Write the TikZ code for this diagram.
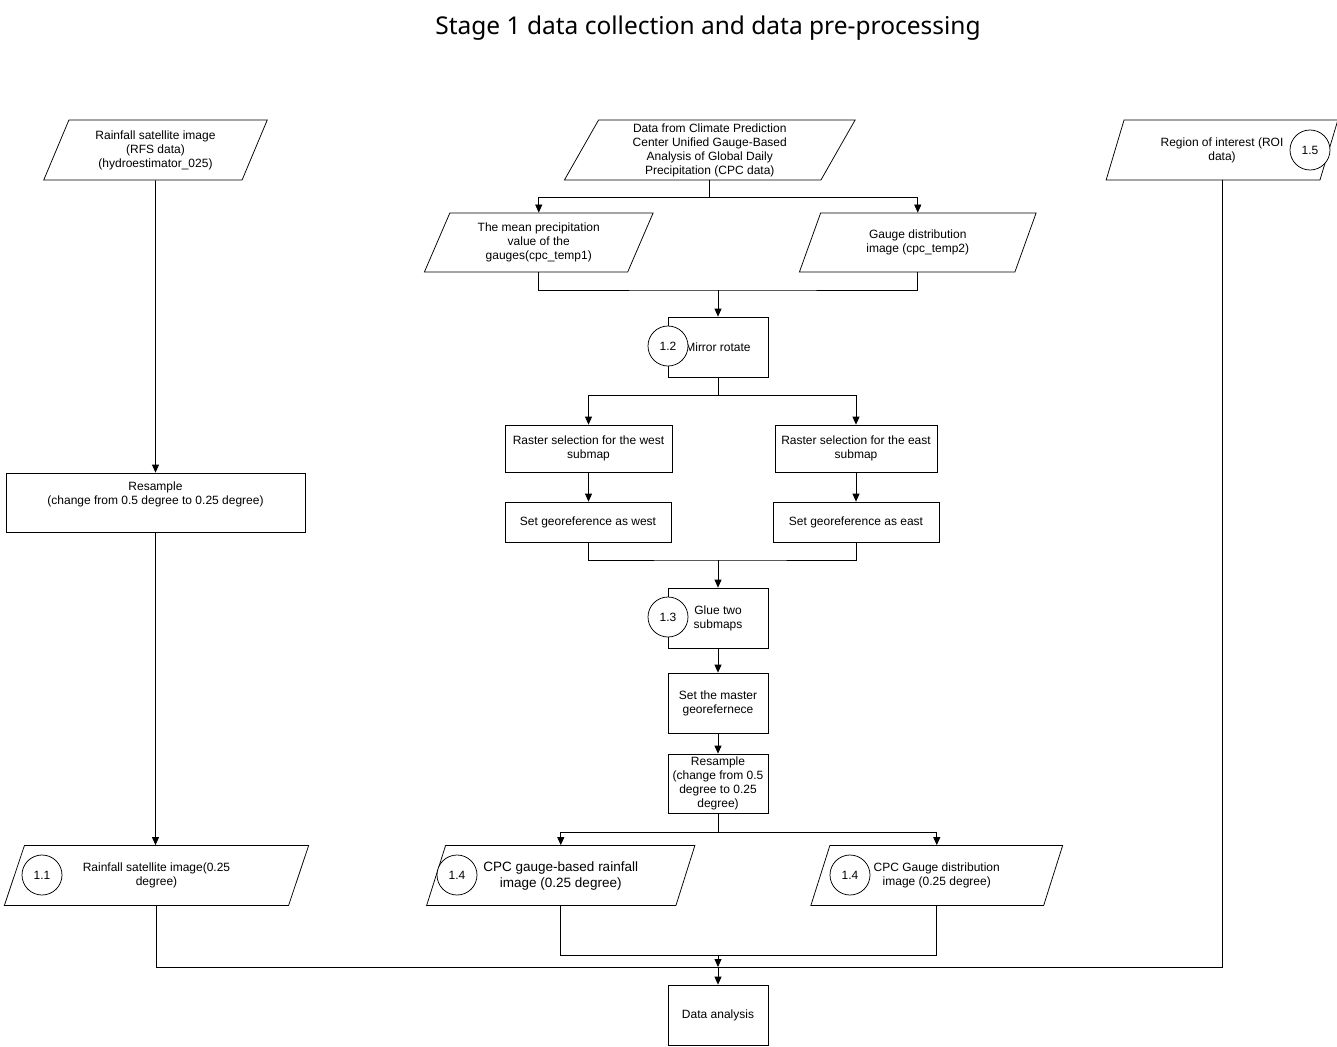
\documentclass[tikz,border=0pt]{standalone}
\usepackage{fontspec}
\setmainfont{Liberation Sans}
\newfontfamily\titlefont{Noto Sans}
\usetikzlibrary{shapes.geometric,arrows.meta}

\tikzset{
  databox/.style={draw, trapezium, trapezium left angle=66, trapezium right angle=114,
    trapezium stretches=true, minimum height=60, inner sep=0pt, align=center},
  procbox/.style={draw, rectangle, minimum width=100, minimum height=60, inner sep=0pt, align=center},
  stagenum/.style={draw, circle, fill=white, minimum size=40, inner sep=0pt},
  flow/.style={-{Triangle[length=8pt,width=7pt]}}
}

\begin{document}
\begin{tikzpicture}[x=1pt, y=-1pt, line width=0.75pt, font=\fontsize{12}{14}\selectfont]
  \useasboundingbox (0,0) rectangle (1337,1046);
  \node[font=\titlefont\fontsize{24.5}{28}\selectfont] (title) at (708,28) {Stage 1 data collection and data pre-processing};

  \node[databox, minimum width=224] (rfs) at (155.5,150) {Rainfall satellite image\\(RFS data)\\(hydroestimator\_025)};
  \node[procbox, minimum width=299, minimum height=59] (resl) at (155.5,502.5) {Resample\\(change from 0.5 degree to 0.25 degree)\\\strut};
  \node[databox, minimum width=305] (rfs25) at (156.5,875.5) {Rainfall satellite image(0.25\\degree)};

  \node[databox, minimum width=291] (cpc) at (709.75,150) {Data from Climate Prediction\\Center Unified Gauge-Based\\Analysis of Global Daily\\Precipitation (CPC data)};
  \node[databox, minimum width=229, minimum height=59] (meanp) at (538.75,242.5) {The mean precipitation\\value of the\\gauges(cpc\_temp1)};
  \node[databox, minimum width=237, minimum height=59] (gauge) at (917.75,242.5) {Gauge distribution\\image (cpc\_temp2)};
  \node[procbox] (rot) at (718,347) {Mirror rotate};
  \node[procbox, minimum width=167, minimum height=47] (rasw) at (588.5,448.5) {Raster selection for the west\\submap};
  \node[procbox, minimum width=162, minimum height=47] (rase) at (856,448.5) {Raster selection for the east\\submap};
  \node[procbox, minimum width=166, minimum height=40] (geow) at (588,522) {Set georeference as west};
  \node[procbox, minimum width=166, minimum height=40] (geoe) at (856,522) {Set georeference as east};
  \node[procbox] (glue) at (718,618) {Glue two\\submaps};
  \node[procbox] (master) at (718,703) {Set the master\\georefernece};
  \node[procbox, minimum height=59] (resc) at (718,783.5) {Resample\\(change from 0.5\\degree to 0.25\\degree)};
  \node[databox, minimum width=269, font=\fontsize{13.5}{16}\selectfont] (cpc25) at (560.75,875.5) {CPC gauge-based rainfall\\image (0.25 degree)};
  \node[databox, minimum width=252] (gd25) at (936.75,875.5) {CPC Gauge distribution\\image (0.25 degree)};
  \node[procbox] (ana) at (718,1015) {Data analysis};

  \node[databox, minimum width=232] (roi) at (1222,150) {Region of interest (ROI\\data)};

  \node[stagenum] (c11) at (42,875) {1.1};
  \node[stagenum] (c12) at (668,346) {1.2};
  \node[stagenum] (c13) at (668,617) {1.3};
  \node[stagenum] (c14a) at (457,875) {1.4};
  \node[stagenum] (c14b) at (850,875) {1.4};
  \node[stagenum] (c15) at (1310,150) {1.5};

  \draw[flow] (rfs.south) -- (resl.north);
  \draw[flow] (resl.south) -- (resl.south |- rfs25.north);

  \draw (cpc.south) -- ++(0,17) coordinate (j1);
  \draw[flow] (j1) -| (meanp.north);
  \draw[flow] (j1) -| (gauge.north);
  \coordinate (j2) at (718,290);
  \draw (meanp.south) |- (j2) -| (gauge.south);
  \draw[flow] (j2) -- (rot.north);
  \draw (rot.south) -- ++(0,18) coordinate (j3);
  \draw[flow] (j3) -| (rasw.north);
  \draw[flow] (j3) -| (rase.north);
  \draw[flow] (rasw.south) -- (rasw.south |- geow.north);
  \draw[flow] (rase.south) -- (geoe.north);
  \coordinate (j4) at (718,560);
  \draw (geow.south) |- (j4) -| (geoe.south);
  \draw[flow] (j4) -- (glue.north);
  \draw[flow] (glue) -- (master);
  \draw[flow] (master) -- (resc);
  \draw (resc.south) -- ++(0,19) coordinate (j5);
  \draw[flow] (j5) -| (cpc25.north);
  \draw[flow] (j5) -| (gd25.north);
  \coordinate (j6) at (718,955);
  \draw (cpc25.south) |- (j6) -| (gd25.south);
  \coordinate (j7) at (718,967);
  \draw (rfs25.south) |- (j7) -| (roi.south);
  \draw[flow] (j6) -- (j7);
  \draw[flow] (j7) -- (ana.north);
\end{tikzpicture}
\end{document}
